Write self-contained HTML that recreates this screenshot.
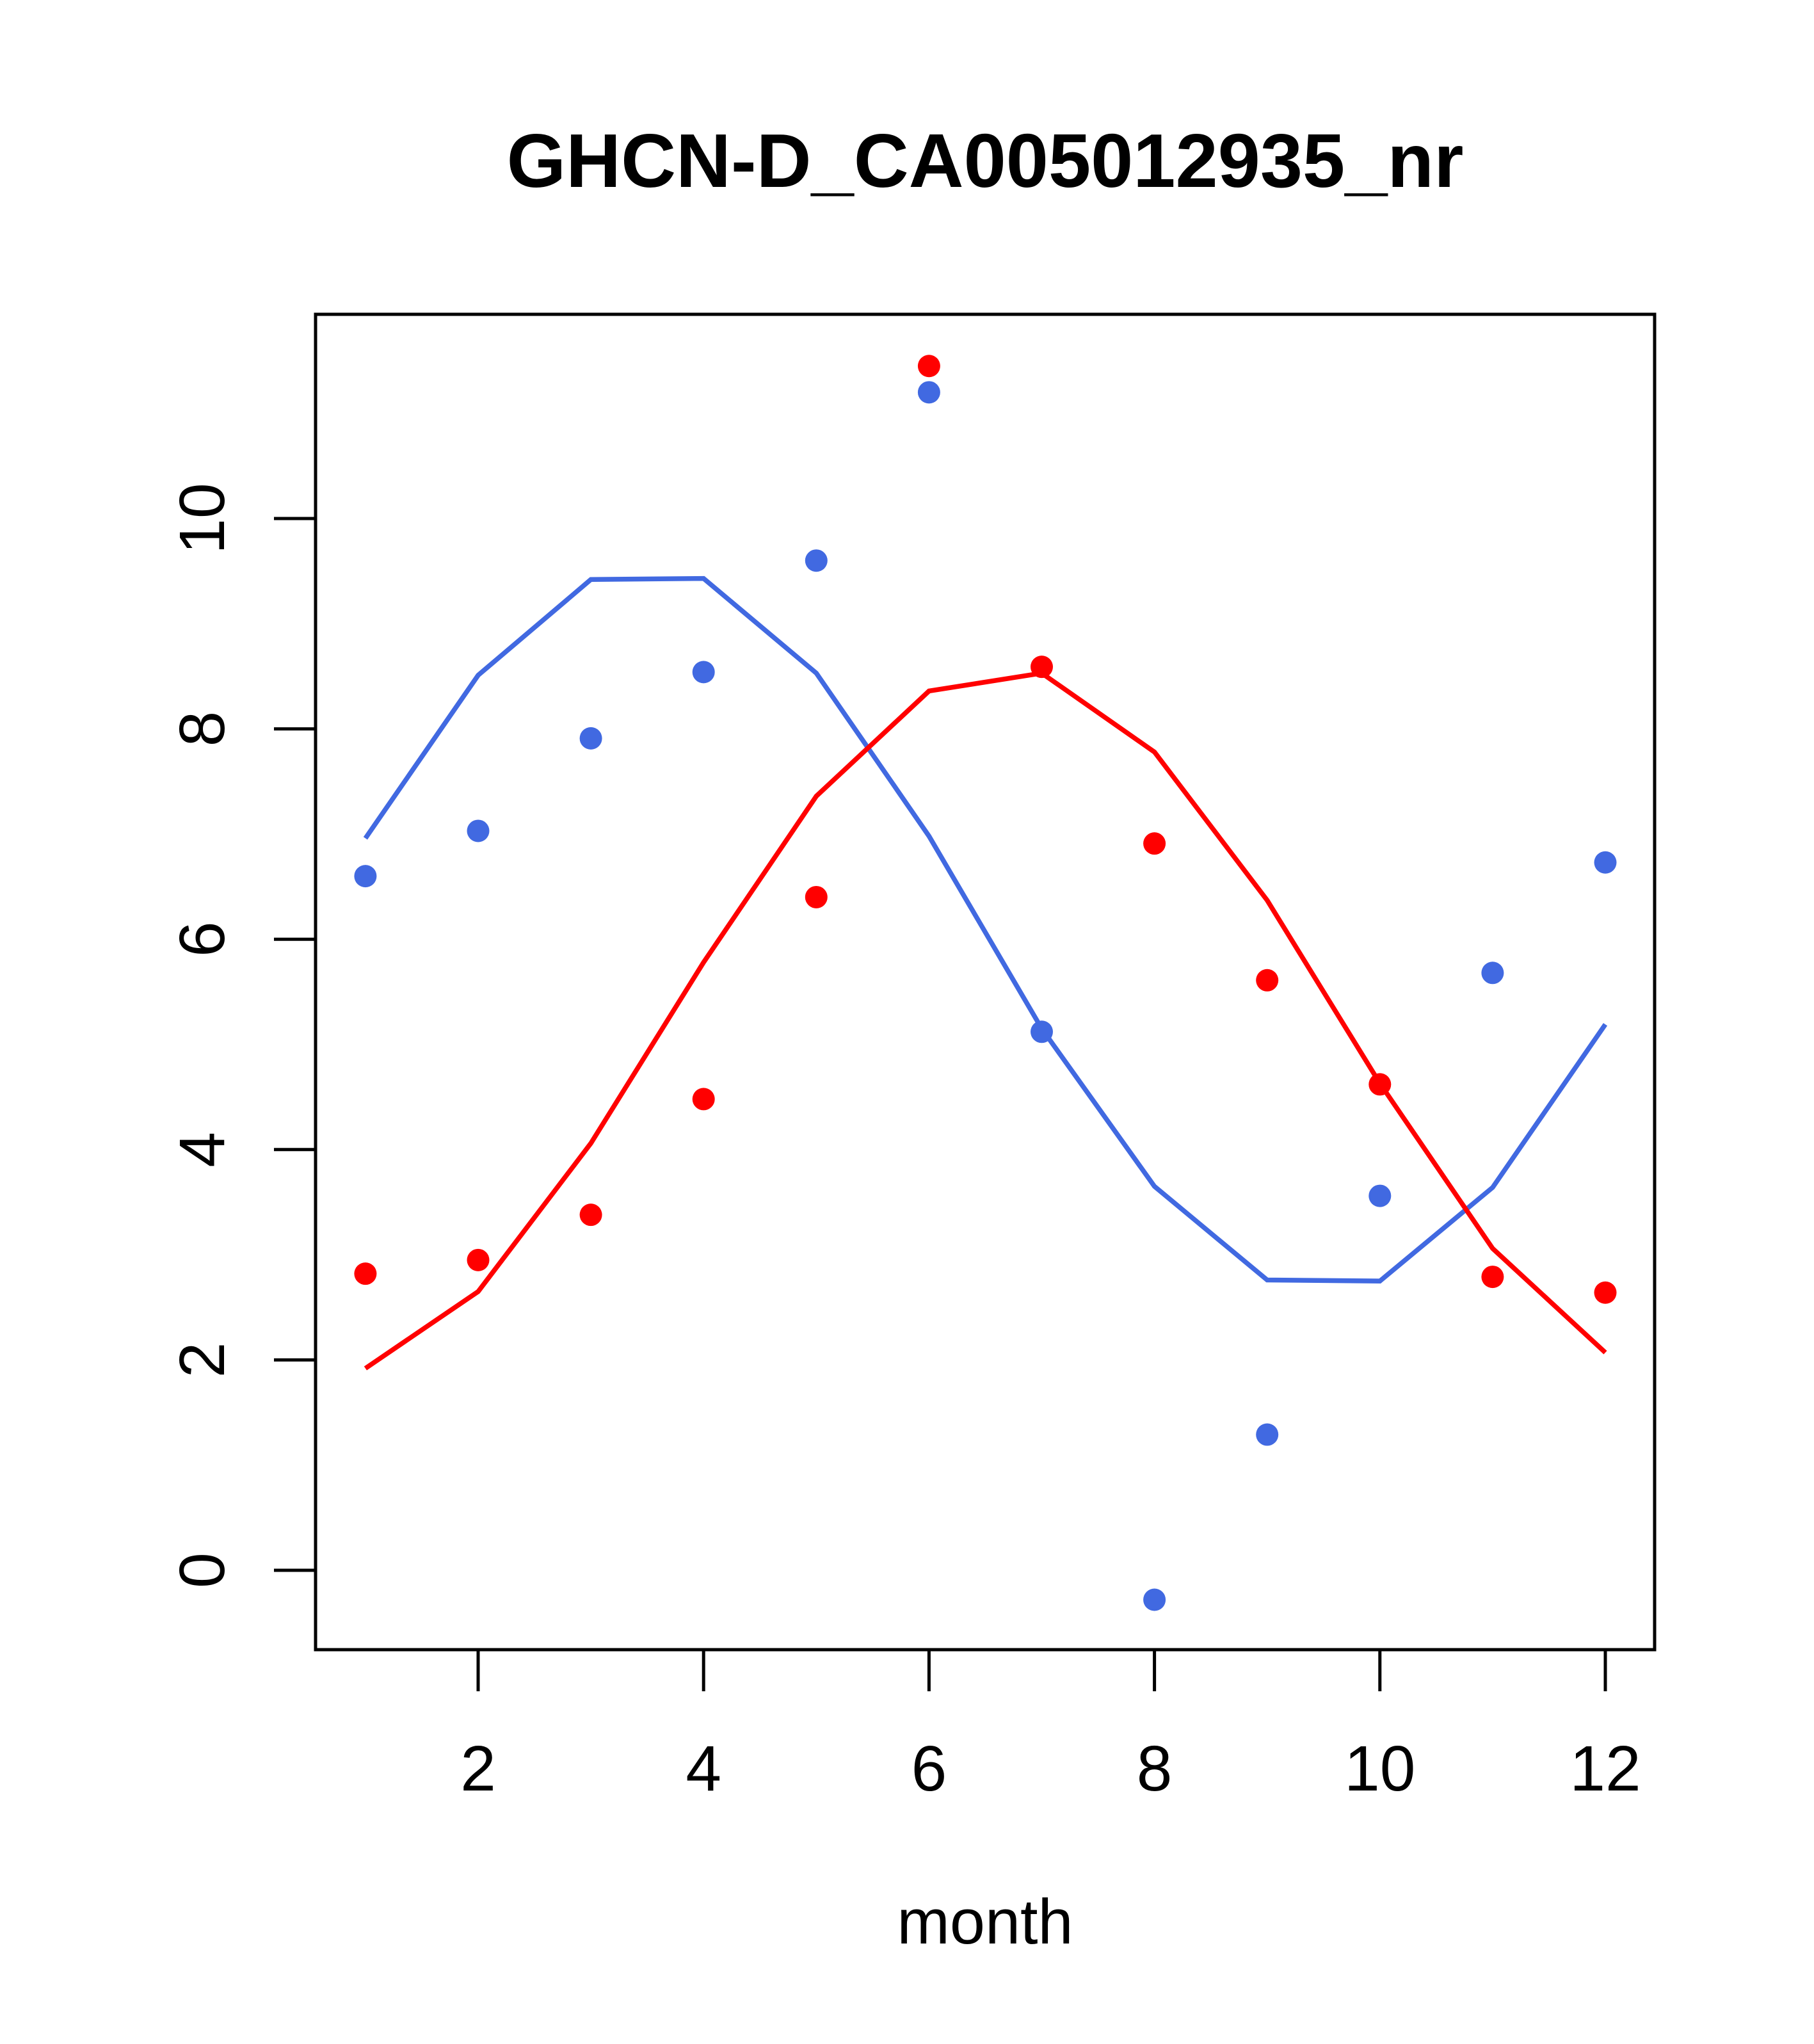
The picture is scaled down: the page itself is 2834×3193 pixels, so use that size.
<!DOCTYPE html>
<html><head><meta charset="utf-8"><style>html,body{margin:0;padding:0;background:#fff}</style></head>
<body>
<svg id="chart" width="2834" height="3188" xmlns="http://www.w3.org/2000/svg" font-family="Liberation Sans, sans-serif">
<rect width="2834" height="3188" fill="#fff"/>
<text x="1539" y="292" font-size="119" font-weight="bold" text-anchor="middle">GHCN-D_CA005012935_nr</text>
<rect x="493" y="491" width="2092" height="2086" fill="none" stroke="#000" stroke-width="5"/>
<text x="1539" y="3036" font-size="99" text-anchor="middle">month</text>
<g id="axes"></g>
<g id="marks"></g>
</svg>
<script>
const months = [1,2,3,4,5,6,7,8,9,10,11,12];
const bluePoints = [6.6,7.03,7.91,8.54,9.6,11.2,5.12,-0.28,1.29,3.56,5.68,6.73];
const redPoints = [2.82,2.95,3.38,4.48,6.4,11.45,8.59,6.91,5.61,4.62,2.79,2.64];
const blueLine = [6.96,8.51,9.42,9.43,8.53,6.98,5.15,3.65,2.76,2.75,3.64,5.19];
const redLine = [1.92,2.65,4.06,5.78,7.36,8.36,8.53,7.78,6.37,4.63,3.06,2.07];
const xTicks = [2,4,6,8,10,12];
const yTicks = [0,2,4,6,8,10];

const NS = "http://www.w3.org/2000/svg";
function xs(v){ return 747 + (v-2)*(2508-747)/10; }
function ys(v){ return 2453 - v*(2453-810)/10; }
function mk(tag, attrs, parent){ const e=document.createElementNS(NS,tag); for(const k in attrs) e.setAttribute(k,attrs[k]); parent.appendChild(e); return e; }
const axes=document.getElementById('axes'), marks=document.getElementById('marks');

xTicks.forEach(t=>{
  const l=mk('line',{x1:xs(t),x2:xs(t),y1:2577,y2:2642,stroke:'#000','stroke-width':5},axes);
  
  
  const tx=mk('text',{x:xs(t),y:2797,'font-size':100,'text-anchor':'middle'},axes);
  tx.textContent=t;
  
  
});
yTicks.forEach(t=>{
  const l=mk('line',{x1:428,x2:493,y1:ys(t),y2:ys(t),stroke:'#000','stroke-width':5},axes);
  
  
  const tx=mk('text',{x:350,y:ys(t),'font-size':100,'text-anchor':'middle',transform:`rotate(-90 350 ${ys(t)})`},axes);
  tx.textContent=t;
  
  
});

function line(vals,color,name){
  const p=mk('polyline',{points:vals.map((v,i)=>xs(months[i])+','+ys(v)).join(' '),fill:'none',stroke:color,'stroke-width':7.5},marks);
  
  
}
function pts(vals,color,name){
  vals.forEach((v,i)=>{
    const c=mk('circle',{cx:xs(months[i]),cy:ys(v),r:17.5,fill:color},marks);
    
    
  });
}
line(blueLine,'#4169E1','blue-fit-line');
line(redLine,'#FF0000','red-fit-line');
pts(bluePoints,'#4169E1','blue-point');
pts(redPoints,'#FF0000','red-point');
</script>
</body></html>
